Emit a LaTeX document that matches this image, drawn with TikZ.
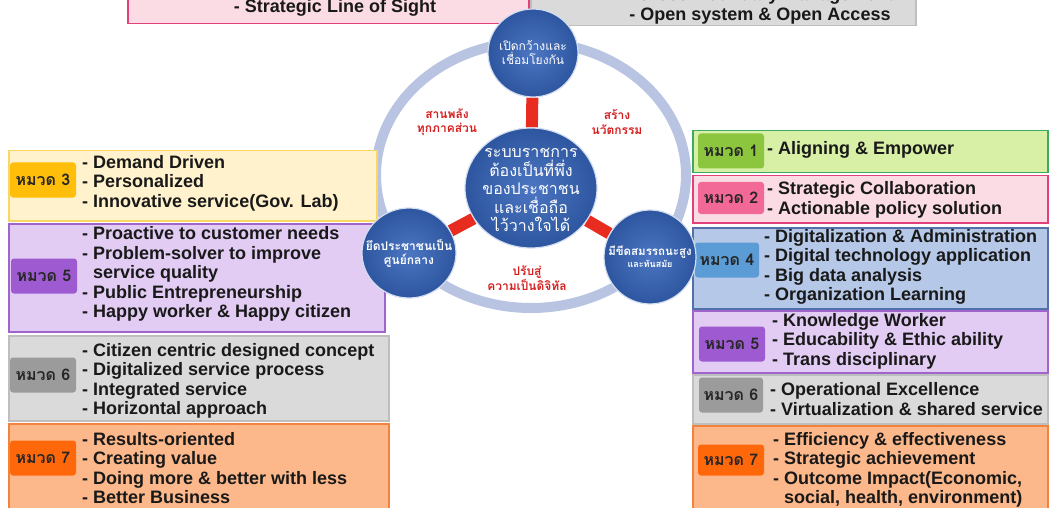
\documentclass[tikz,border=0pt]{standalone}
\usepackage{fontspec}
\setmainfont{Liberation Sans}
\newfontfamily\thaifont[Script=Thai]{Loma}
\usepackage{xcolor}
\usetikzlibrary{shapes.geometric,positioning,backgrounds}

\definecolor{yelFill}{RGB}{255,242,204}
\definecolor{yelLine}{RGB}{250,215,100}
\definecolor{yelTag}{RGB}{255,190,10}
\definecolor{vioFill}{RGB}{226,204,244}
\definecolor{vioLine}{RGB}{160,100,205}
\definecolor{vioTag}{RGB}{158,90,208}
\definecolor{gryFill}{RGB}{218,218,218}
\definecolor{gryLine}{RGB}{190,190,190}
\definecolor{gryTag}{RGB}{155,155,155}
\definecolor{orgFill}{RGB}{252,184,138}
\definecolor{orgLine}{RGB}{242,130,60}
\definecolor{orgTag}{RGB}{255,104,10}
\definecolor{grnFill}{RGB}{216,240,166}
\definecolor{grnLine}{RGB}{60,170,95}
\definecolor{grnTag}{RGB}{140,198,63}
\definecolor{pnkFill}{RGB}{252,220,228}
\definecolor{pnkLine}{RGB}{226,64,122}
\definecolor{pnkTag}{RGB}{242,104,150}
\definecolor{bluFill}{RGB}{182,200,232}
\definecolor{bluLine}{RGB}{84,112,170}
\definecolor{bluTag}{RGB}{92,156,214}
\definecolor{hubIn}{RGB}{76,118,194}
\definecolor{hubOut}{RGB}{46,86,160}
\definecolor{ringCol}{RGB}{184,196,226}
\definecolor{barCol}{RGB}{232,44,32}
\definecolor{lblCol}{RGB}{214,30,30}

\begin{document}
\begin{tikzpicture}[x=1pt, y=-1pt,
    box/.style={draw, line width=1.5pt, anchor=north west, inner sep=0pt},
    tag/.style={rounded corners=3pt, minimum width=66pt, minimum height=35pt, inner sep=0pt,
                text=black!85, font=\thaifont\bfseries\fontsize{16}{16}\selectfont},
    items/.style={anchor=west, align=left, inner sep=0pt, text=black!90,
                  font=\bfseries\fontsize{18}{19.5}\selectfont},
    hub/.style={ellipse, draw=white!75!hubIn, line width=1.2pt, inner sep=0pt,
                inner color=hubIn, outer color=hubOut},
    hubtext/.style={text=white, align=center, inner sep=0pt},
    redlbl/.style={text=lblCol, align=center, font=\thaifont\bfseries\fontsize{12}{14.5}\selectfont},
    bar/.style={draw=barCol, line width=12pt},
    ring/.style={draw=ringCol, line width=10pt}]
  \useasboundingbox (0,0) rectangle (1050,508);
  \clip (0,0) rectangle (1050,508);

  % top boxes (cut by the frame)
  \node[box, fill=pnkFill, draw=pnkLine, minimum width=401pt, minimum height=45pt] (tL) at (127,-22) {};
  \node[box, fill=gryFill, draw=gryLine, minimum width=385pt, minimum height=47pt] (tR) at (530,-22) {};
  \node[items, anchor=center] (tLt) at (335,8) {- Strategic Line of Sight};
  \node[items, anchor=center, align=center] (tRt) at (760,6) {- Cross-Boundary Management\\- Open system \& Open Access};

  % left column
  \node[box, fill=yelFill, draw=yelLine, minimum width=368pt, minimum height=70pt]  (l3) at (8,150) {};
  \node[box, fill=vioFill, draw=vioLine, minimum width=376pt, minimum height=108pt] (l5) at (8,223) {};
  \node[box, fill=gryFill, draw=gryLine, minimum width=380pt, minimum height=85pt]  (l6) at (8,335) {};
  \node[box, fill=orgFill, draw=orgLine, minimum width=380pt, minimum height=95pt]  (l7) at (8,423) {};
  \node[tag, fill=yelTag] (l3b) at (43,180) {หมวด 3};
  \node[tag, fill=vioTag] (l5b) at (44,276) {หมวด 5};
  \node[tag, fill=gryTag] (l6b) at (43,375) {หมวด 6};
  \node[tag, fill=orgTag] (l7b) at (43,458) {หมวด 7};
  \node[items] (l3t) at (82,183) {- Demand Driven\\- Personalized\\- Innovative service(Gov. Lab)};
  \node[items] (l5t) at (82,274) {- Proactive to customer needs\\- Problem-solver to improve\\\hphantom{- }service quality\\- Public Entrepreneurship\\- Happy worker \& Happy citizen};
  \node[items] (l6t) at (82,381) {- Citizen centric designed concept\\- Digitalized service process\\- Integrated service\\- Horizontal approach};
  \node[items] (l7t) at (82,468) {- Results-oriented\\- Creating value\\- Doing more \& better with less\\- Better Business};

  % right column
  \node[box, fill=grnFill, draw=grnLine, minimum width=355pt, minimum height=42pt] (r1) at (692,130) {};
  \node[box, fill=pnkFill, draw=pnkLine, minimum width=355pt, minimum height=47pt] (r2) at (692,175) {};
  \node[box, fill=bluFill, draw=bluLine, minimum width=355pt, minimum height=81pt] (r4) at (692,227) {};
  \node[box, fill=vioFill, draw=vioLine, minimum width=355pt, minimum height=62pt] (r5) at (692,310) {};
  \node[box, fill=gryFill, draw=gryLine, minimum width=355pt, minimum height=49pt] (r6) at (692,374) {};
  \node[box, fill=orgFill, draw=orgLine, minimum width=355pt, minimum height=95pt] (r7) at (692,425) {};
  \node[tag, fill=grnTag] (r1b) at (731,151) {หมวด 1};
  \node[tag, fill=pnkTag, minimum height=32pt] (r2b) at (731,198) {หมวด 2};
  \node[tag, fill=bluTag, minimum width=64pt] (r4b) at (727,260) {หมวด 4};
  \node[tag, fill=vioTag] (r5b) at (732,344) {หมวด 5};
  \node[tag, fill=gryTag, minimum width=64pt] (r6b) at (731,395) {หมวด 6};
  \node[tag, fill=orgTag, minimum height=31pt] (r7b) at (731,460) {หมวด 7};
  \node[items] (r1t) at (767,150) {- Aligning \& Empower};
  \node[items] (r2t) at (767,200) {- Strategic Collaboration\\- Actionable policy solution};
  \node[items] (r4t) at (764,267) {- Digitalization \& Administration\\- Digital technology application\\- Big data analysis\\- Organization Learning};
  \node[items] (r5t) at (772,341) {- Knowledge Worker\\- Educability \& Ethic ability\\- Trans disciplinary};
  \node[items] (r6t) at (770,399) {- Operational Excellence\\- Virtualization \& shared service};
  \node[items] (r7t) at (773,470) {- Efficiency \& effectiveness\\- Strategic achievement\\- Outcome Impact(Economic,\\\hphantom{- }social, health, environment)};

  % hub and spokes
  \node[hub, minimum width=90pt, minimum height=88pt]   (cT) at (533,53)  {};
  \node[hub, minimum width=132pt, minimum height=120pt] (cM) at (531,188) {};
  \node[hub, minimum width=94pt, minimum height=90pt]   (cL) at (409,253) {};
  \node[hub, minimum width=92pt, minimum height=94pt]   (cR) at (650,257) {};
  \node[hubtext, font=\thaifont\fontsize{12}{14}\selectfont] (cTt) at (cT) {เปิดกว้างและ\\เชื่อมโยงกัน};
  \node[hubtext, font=\thaifont\fontsize{16}{18.5}\selectfont] (cMt) at (531,190)
    {ระบบราชการ\\ต้องเป็นที่พึ่ง\\ของประชาชน\\และเชื่อถือ\\ไว้วางใจได้};
  \node[hubtext, font=\thaifont\bfseries\fontsize{12}{14}\selectfont] (cLt) at (cL) {ยึดประชาชนเป็น\\ศูนย์กลาง};
  \node[hubtext, font=\thaifont\bfseries\fontsize{11.5}{12}\selectfont] (cRt) at (cR)
    {มีขีดสมรรถนะสูง\\{\fontsize{9}{11}\selectfont และทันสมัย}};
  \node[redlbl] (sA) at (447,122) {สานพลัง\\ทุกภาคส่วน};
  \node[redlbl] (sB) at (617,122) {สร้าง\\นวัตกรรม};
  \node[redlbl] (sC) at (527,278) {ปรับสู่\\ความเป็นดิจิทัล};

  \begin{scope}[on background layer]
    \draw[ring] (531,175) ellipse [x radius=155pt, y radius=133pt];
    \path[bar]
    (cT) edge (cM)
    (cM) edge (cL)
    (cM) edge (cR);
  \end{scope}
\end{tikzpicture}
\end{document}
